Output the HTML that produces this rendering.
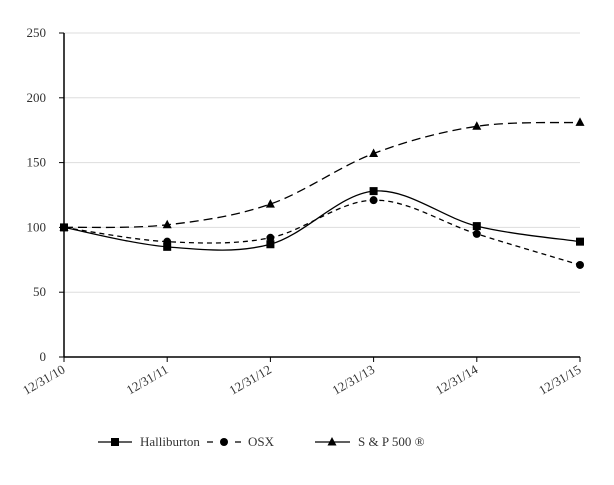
<!DOCTYPE html>
<html><head><meta charset="utf-8"><style>
body{margin:0;background:#fff}
svg{font-family:"Liberation Serif",serif;font-size:13px}
</style></head><body>
<svg id="c" width="614" height="480"></svg>
<script>
const categories=["12/31/10","12/31/11","12/31/12","12/31/13","12/31/14","12/31/15"];
const halliburton=[100,85,87,128,101,89];
const osx=[100,89,92,121,95,71];
const sp500=[100,102,118,157,178,181];
const yTicks=[0,50,100,150,200,250];
const NS="http://www.w3.org/2000/svg";
const svg=document.getElementById('c');
const X0=64,X1=580,Y0=357,Y1=33;
const xs=i=>X0+(X1-X0)*i/(categories.length-1);
const ys=v=>Y0-(Y0-Y1)*v/250;
function el(t,a,p){const e=document.createElementNS(NS,t);for(const k in a)e.setAttribute(k,a[k]);(p||svg).appendChild(e);return e;}
yTicks.forEach(t=>{
 if(t>0){const g=el('line',{x1:X0,x2:X1,y1:ys(t),y2:ys(t),stroke:'#ddd','stroke-width':1});
 
 }
 const tk=el('line',{x1:X0-5,x2:X0,y1:ys(t),y2:ys(t),stroke:'#000'});
 
 
 const tx=el('text',{x:X0-18,y:ys(t)+4,'text-anchor':'end',fill:'#333'});tx.textContent=t;
 
 
});
const ya=el('line',{x1:X0,x2:X0,y1:Y1,y2:Y0,stroke:'#000','stroke-width':1.5});


const xa=el('line',{x1:X0,x2:X1,y1:Y0,y2:Y0,stroke:'#000','stroke-width':1.5});


categories.forEach((c,i)=>{
 const tk=el('line',{x1:xs(i),x2:xs(i),y1:Y0,y2:Y0+5,stroke:'#000'});
 
 
 const tx=el('text',{x:xs(i)+2,y:Y0+15,'text-anchor':'end',transform:`rotate(-30 ${xs(i)+2} ${Y0+15})`,fill:'#333'});tx.textContent=c;
 
 
});
function path(vals){
 const p=vals.map((v,i)=>[xs(i),ys(v)]);let d=`M${p[0][0]},${p[0][1]}`;
 for(let i=0;i<p.length-1;i++){const a=p[Math.max(i-1,0)],b=p[i],c=p[i+1],e=p[Math.min(i+2,p.length-1)];
  d+=` C${b[0]+(c[0]-a[0])/6},${b[1]+(c[1]-a[1])/6} ${c[0]-(e[0]-b[0])/6},${c[1]-(e[1]-b[1])/6} ${c[0]},${c[1]}`;}
 return d;}
function marker(type,x,y,name){let m;
 if(type==='sq')m=el('rect',{x:x-4,y:y-4,width:8,height:8,fill:'#000'});
 else if(type==='ci')m=el('circle',{cx:x,cy:y,r:4,fill:'#000'});
 else m=el('path',{d:`M${x},${y-5}L${x+4.5},${y+3.5}L${x-4.5},${y+3.5}Z`,fill:'#000'});
 
 }
const series=[[halliburton,'sq','none','halliburton'],[osx,'ci','5,4','osx'],[sp500,'tr','9,5','sp500']];
series.forEach(([v,m,da,n])=>{
 const l=el('path',{d:path(v),fill:'none',stroke:'#000','stroke-width':1.3,'stroke-dasharray':da});
 
 
 v.forEach((d,i)=>marker(m,xs(i),ys(d),n+'-point'));
});
const LY=442;
const l1=el('line',{x1:98,x2:132,y1:LY,y2:LY,stroke:'#000','stroke-width':1.3});


marker('sq',115,LY,'legend-halliburton-marker');
const t1=el('text',{x:140,y:LY+4,fill:'#333'});t1.textContent='Halliburton';


const l2=el('line',{x1:207,x2:241,y1:LY,y2:LY,stroke:'#000','stroke-width':1.3,'stroke-dasharray':'6,22'});


marker('ci',224,LY,'legend-osx-marker');
const t2=el('text',{x:248,y:LY+4,fill:'#333'});t2.textContent='OSX';


const l3=el('line',{x1:315,x2:350,y1:LY,y2:LY,stroke:'#000','stroke-width':1.3});


marker('tr',332,LY,'legend-sp500-marker');
const t3=el('text',{x:358,y:LY+4,fill:'#333'});t3.textContent='S & P 500 ®';


</script>
</body></html>
